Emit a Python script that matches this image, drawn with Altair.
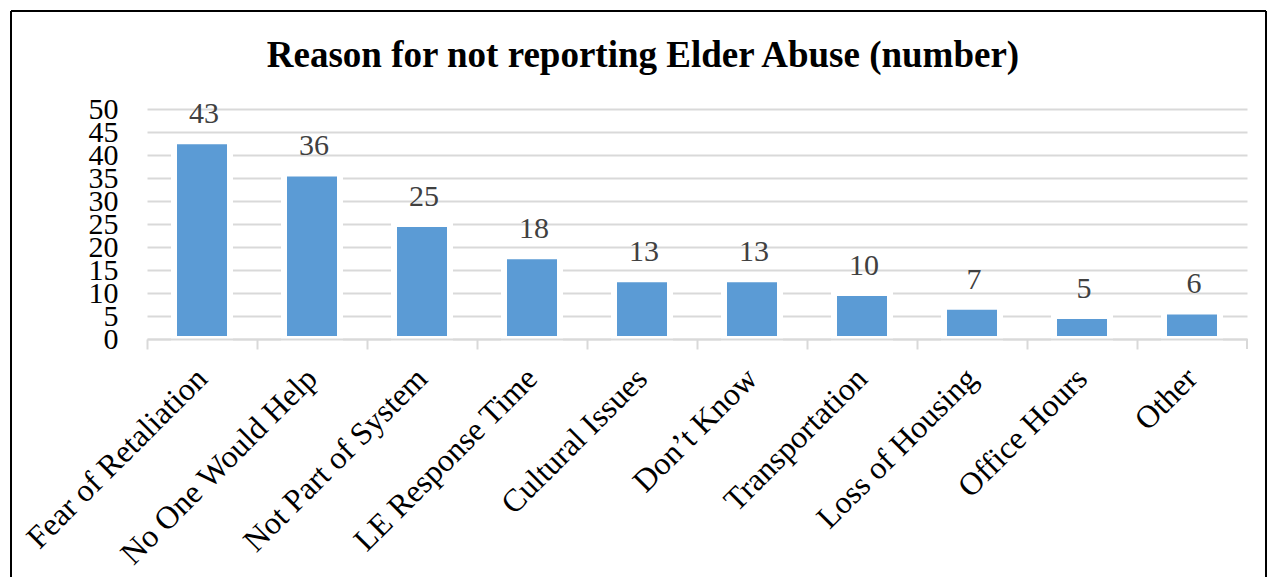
import altair as alt
import pandas as pd

categories = ["Fear of Retaliation", "No One Would Help", "Not Part of System",
              "LE Response Time", "Cultural Issues", "Don\u2019t Know",
              "Transportation", "Loss of Housing", "Office Hours", "Other"]
counts = [43, 36, 25, 18, 13, 13, 10, 7, 5, 6]
y_ticks = [0, 5, 10, 15, 20, 25, 30, 35, 40, 45, 50]

df = pd.DataFrame({"reason": categories, "count": counts})

W, H = 1100, 230
SERIF = "Liberation Serif"
GRID = "#d9d9d9"

x_enc = alt.X("reason:N", sort=categories, title=None,
              scale=alt.Scale(paddingInner=0, paddingOuter=0),
              axis=alt.Axis(labelAngle=-45, labelAlign="right", labelBaseline="middle",
                            labelFont=SERIF, labelFontSize=32, labelColor="black",
                            labelPadding=24, bandPosition=0, tickColor=GRID,
                            tickSize=10, tickWidth=2, domainColor=GRID, domainWidth=2,
                            zindex=1, labelLimit=400))
y_enc = alt.Y("count:Q", title=None,
              scale=alt.Scale(domain=[0, 50], nice=False),
              axis=alt.Axis(values=y_ticks, tickCount=11, domain=False, ticks=False,
                            gridColor=GRID, gridWidth=2, labelFont=SERIF,
                            labelFontSize=30, labelColor="black", labelPadding=29,
                            labelBaseline="middle", labelOverlap=False))

base = alt.Chart(df)
bars = base.mark_bar(color="#5B9BD5", stroke="white", strokeWidth=6, width=56).encode(
    x=x_enc, y=y_enc)
labels = base.mark_text(font=SERIF, fontSize=30, color="#404040", baseline="alphabetic",
                        dx=2, dy=-18).encode(x=x_enc, y=y_enc, text="count:Q")

end_tick = alt.Chart(df).mark_rule(color=GRID, strokeWidth=2).encode(
    x=alt.value(W), y=alt.value(H), y2=alt.value(H + 10))

L, T, R, B = -136, -98, 1119, 470
frame_left = alt.Chart(df).mark_rule(color="black", strokeWidth=2).encode(
    x=alt.value(L), y=alt.value(T), y2=alt.value(B))
frame_right = alt.Chart(df).mark_rule(color="black", strokeWidth=2).encode(
    x=alt.value(R), y=alt.value(T), y2=alt.value(B))
frame_top = alt.Chart(df).mark_rule(color="black", strokeWidth=2).encode(
    x=alt.value(L), x2=alt.value(R), y=alt.value(T))

chart = alt.layer(bars, labels, end_tick, frame_left, frame_right, frame_top).properties(
    width=W, height=H,
    autosize=alt.AutoSizeParams(type="none"),
    padding={"left": 139, "top": 101, "right": 20, "bottom": 238},
    title=alt.TitleParams("Reason for not reporting Elder Abuse (number)",
                          font=SERIF, fontSize=37, fontWeight="bold", color="black",
                          anchor="middle", dx=-54, offset=-65),
).configure_view(stroke=None)

chart.save("out.html", embed_options={"renderer": "svg", "actions": False})
